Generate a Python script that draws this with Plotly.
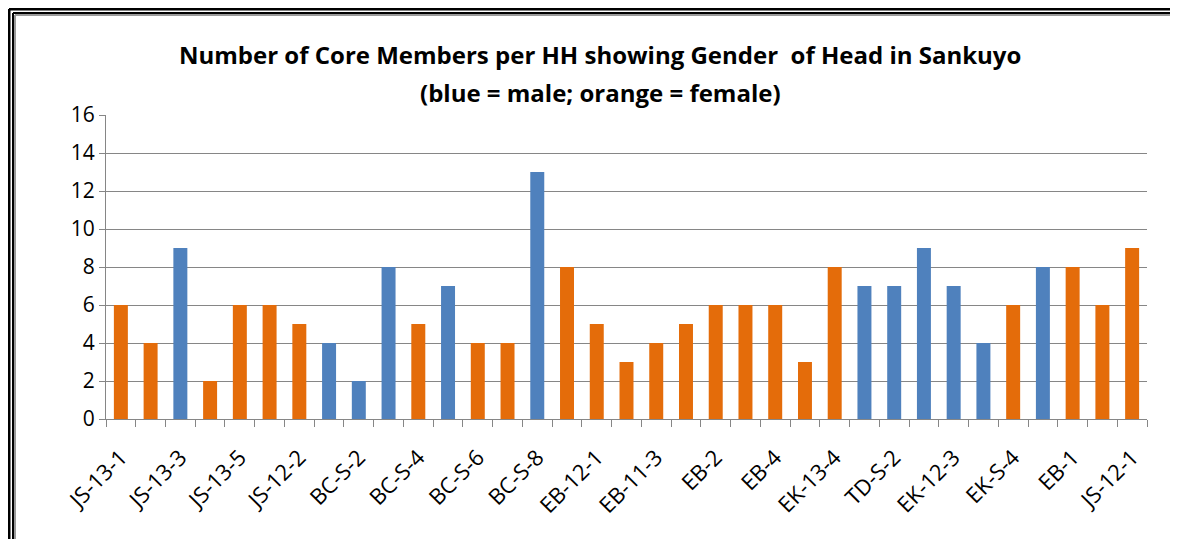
import plotly.graph_objects as go

# Datos: hogares (HH), miembros principales y sexo del jefe de hogar
hh_ids = [
    "JS-13-1", "JS-13-2", "JS-13-3", "JS-13-4", "JS-13-5", "JS-13-6", "JS-12-2",
    "JS-12-3", "BC-S-2", "BC-S-3", "BC-S-4", "BC-S-5", "BC-S-6", "BC-S-7",
    "BC-S-8", "BC-S-9", "EB-12-1", "EB-12-2", "EB-11-3", "EB-11-4", "EB-2",
    "EB-3", "EB-4", "EB-5", "EK-13-4", "TD-S-1", "TD-S-2", "EK-12-2", "EK-12-3",
    "EK-S-3", "EK-S-4", "EK-S-5", "EB-1", "JS-11-1", "JS-12-1",
]
core_members = [6, 4, 9, 2, 6, 6, 5, 4, 2, 8, 5, 7, 4, 4, 13, 8, 5, 3, 4, 5,
                6, 6, 6, 3, 8, 7, 7, 9, 7, 4, 6, 8, 8, 6, 9]
head_gender = ["F", "F", "M", "F", "F", "F", "F", "M", "M", "M", "F", "M", "F", "F",
               "M", "F", "F", "F", "F", "F", "F", "F", "F", "F", "F", "M", "M", "M",
               "M", "M", "F", "M", "F", "F", "F"]
y_ticks = [0, 2, 4, 6, 8, 10, 12, 14, 16]

colores = {"M": "#4F81BD", "F": "#E46C0A"}

# Geometría en píxeles (la página añade 8px de margen)
W, H = 1170, 531
L, R, T, B = 98, 31, 107, 120
pw, ph = W - L - R, H - T - B


def px(x):
    return (x - L) / pw


def py(y):
    return (H - B - y) / ph


fig = go.Figure()

fig.add_trace(go.Bar(
    x=hh_ids,
    y=core_members,
    marker=dict(color=[colores[g] for g in head_gender], line=dict(width=0)),
    hovertemplate='%{x}: %{y}<extra></extra>',
))

# Títulos (dos líneas)
fig.add_annotation(text="<b>Number of Core Members per HH showing Gender  of Head in Sankuyo</b>",
                   xref="paper", yref="paper", x=px(592), y=py(47), showarrow=False,
                   font=dict(size=24, color="#000000"), xanchor="center", yanchor="middle")
fig.add_annotation(text="<b>(blue = male; orange = female)</b>",
                   xref="paper", yref="paper", x=px(592), y=py(84), showarrow=False,
                   font=dict(size=24, color="#000000"), xanchor="center", yanchor="middle")

# Marco doble (arriba e izquierda)
for pos, col, w in [(1, "#000000", 3), (5, "#000000", 2), (7, "#999999", 2)]:
    fig.add_shape(type="line", xref="paper", yref="paper",
                  x0=px(pos), x1=px(W + 5), y0=py(pos), y1=py(pos),
                  line=dict(color=col, width=w))
    fig.add_shape(type="line", xref="paper", yref="paper",
                  x0=px(pos), x1=px(pos), y0=py(pos), y1=py(H + 5),
                  line=dict(color=col, width=w))

fig.update_layout(
    width=W, height=H,
    margin=dict(l=L, r=R, t=T, b=B),
    paper_bgcolor="white",
    plot_bgcolor="white",
    font=dict(family="Open Sans, sans-serif", color="#000000"),
    bargap=0.53,
    showlegend=False,
    xaxis=dict(
        type="category",
        tickmode="array",
        tickvals=hh_ids,
        ticktext=[h if i % 2 == 0 else "" for i, h in enumerate(hh_ids)],
        tickangle=-45,
        tickson="boundaries",
        ticks="outside", ticklen=7, tickcolor="#868686",
        ticklabelstandoff=16,
        showline=True, linecolor="#868686", linewidth=1,
        showgrid=False,
        automargin=False,
        tickfont=dict(size=22, color="#000000"),
    ),
    yaxis=dict(
        range=[0, 16],
        tickvals=y_ticks,
        ticks="outside", ticklen=6, tickcolor="#868686",
        showline=True, linecolor="#868686", linewidth=1,
        gridcolor="#868686", gridwidth=1,
        zeroline=False,
        automargin=False,
        tickfont=dict(size=21, color="#000000"),
    ),
)

fig.write_html("out.html")
